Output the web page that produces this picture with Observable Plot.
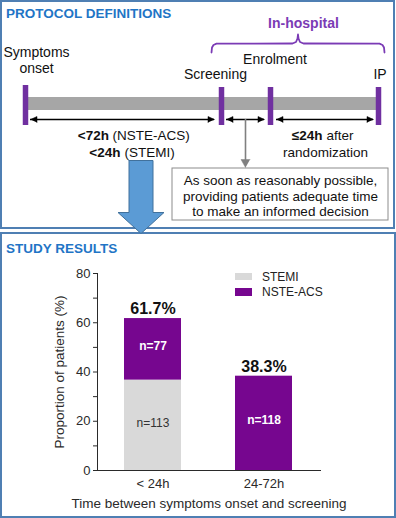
<!DOCTYPE html>
<html><head><meta charset="utf-8">
<script src="https://cdn.jsdelivr.net/npm/d3@7"></script>
<script src="https://cdn.jsdelivr.net/npm/@observablehq/plot@0.6"></script>
<style>
body{margin:0;background:#fff;font-family:"Liberation Sans",Arial,sans-serif;}
#wrap{position:relative;width:396px;height:518px;overflow:hidden;background:#fff;}
.panel{position:absolute;box-sizing:border-box;border:2px solid #4f7fb3;}
.title{position:absolute;left:6px;font-weight:bold;font-size:13.5px;line-height:13.5px;color:#1f75c6;white-space:nowrap;}
.layer{position:absolute;left:0;}
.lg-sw{position:absolute;width:17px;}
.lg-tx{position:absolute;font-size:12px;line-height:12px;color:#222;white-space:nowrap;}
</style></head><body><div id="wrap"></div>
<script>
// ---------------- chart data ----------------
const categories = ["< 24h", "24-72h"];
const series = ["STEMI", "NSTE-ACS"];
const stemiPct = [36.7, 0];
const nsteAcsPct = [25.0, 38.3];
const stemiN = [113, 0];
const nsteAcsN = [77, 118];
const yTickValues = [0, 20, 40, 60, 80];
const yMinorTicks = [10, 30, 50, 70];
const seriesColors = ["#d9d9d9", "#76068f"];
const yLabel = "Proportion of patients (%)";
const xLabel = "Time between symptoms onset and screening";

// ---------------- diagram texts ----------------
const panelTitles = ["PROTOCOL DEFINITIONS", "STUDY RESULTS"];
const eventLabels = ["Symptoms", "onset", "Screening", "Enrolment", "IP"];
const phaseLabel = "In-hospital";
const windowBold = ["<72h", "<24h", "\u226424h"];
const windowRegular = ["(NSTE-ACS)", "(STEMI)", "after"];
const windowExtra = "randomization";
const boxLines = ["As soon as reasonably possible,", "providing patients adequate time", "to make an informed decision"];

// ---------------- diagram layout (schematic, pixel units) ----------------
const D = {
  bar: {x1: 28, x2: 376, y1: 97, y2: 110},
  markerX: [25, 221, 270, 378], markerY1: [85, 87, 87, 87], markerY2: 125,
  spanY: 119, spans: [[30, 214], [226, 264], [276, 373]], head: 6.5, headHalf: 3,
  pointer: {x: 245, y1: 119, tip: 167, head: 8, half: 4.5},
  box: {x1: 172, x2: 388, y1: 168, y2: 220},
  eventPos: [[36, 52.5], [36, 68], [215, 74.5], [274.5, 59.5], [379.5, 74.5]],
  phasePos: [303, 23.5],
  bracket: [[211,52],[211.5,47],[213,44.5],[216,43.2],[292,43],[295.5,41.5],[297,38],[297.5,34],[298,38],[299.5,41.5],[303,43],[379,43.2],[382,44.5],[383.5,47],[384,52]],
  windowBoldEnd: [[108.5, 135.2], [120, 151.7], [322, 135.2]],
  windowRegStart: [[112, 135.2], [124, 151.7], [326, 135.2]],
  extraPos: [325, 151.7],
  boxText: {x: 280, y: [180.2, 195.7, 211.2]},
  bigArrow: {cx: 140.5, shaftHalf: 12, headHalf: 23, top: 160, neck: 212, tip: 233}
};

const purple = "#7030a0";
const bracketPurple = "#7b3bb5";
const font = "Liberation Sans, Arial, sans-serif";
const wrap = document.getElementById("wrap");

// panels
function panel(l, t, w, h) {
  const d = document.createElement("div");
  d.className = "panel";
  Object.assign(d.style, {left: l + "px", top: t + "px", width: w + "px", height: h + "px"});
  wrap.appendChild(d);
}
panel(0, 0, 395, 229);
panel(0, 232, 396, 286);

// ---------------- diagram with Plot ----------------
const markers = D.markerX.map((x, i) => ({x, y1: D.markerY1[i], y2: D.markerY2}));
const spanRows = D.spans.map(([a, b]) => ({x1: a, x2: b, y: D.spanY}));
const heads = [];
D.spans.forEach(([a, b], i) => {
  [[a, 1], [b, -1]].forEach(([x, s], j) => {
    const id = i + "-" + j;
    heads.push({id, x, y: D.spanY});
    heads.push({id, x: x + s * D.head, y: D.spanY - D.headHalf});
    heads.push({id, x: x + s * D.head, y: D.spanY + D.headHalf});
  });
});
const P = D.pointer;
const pointerHead = [
  {x: P.x, y: P.tip}, {x: P.x - P.half, y: P.tip - P.head}, {x: P.x + P.half, y: P.tip - P.head}
];
const A = D.bigArrow;
const bigArrow = [
  [A.cx - A.shaftHalf, A.top], [A.cx + A.shaftHalf, A.top], [A.cx + A.shaftHalf, A.neck],
  [A.cx + A.headHalf, A.neck], [A.cx, A.tip], [A.cx - A.headHalf, A.neck], [A.cx - A.shaftHalf, A.neck],
  [A.cx - A.shaftHalf, A.top]
];
const eventRows = eventLabels.map((t, i) => ({t, x: D.eventPos[i][0], y: D.eventPos[i][1]}));
const boldRows = windowBold.map((t, i) => ({t, x: D.windowBoldEnd[i][0], y: D.windowBoldEnd[i][1]}));
const regRows = windowRegular.map((t, i) => ({t, x: D.windowRegStart[i][0], y: D.windowRegStart[i][1]}));
const boxRows = boxLines.map((t, i) => ({t, x: D.boxText.x, y: D.boxText.y[i]}));

const diagram = Plot.plot({
  width: 396, height: 236, margin: 0,
  x: {domain: [0, 396], range: [0, 396], axis: null},
  y: {domain: [0, 236], range: [0, 236], axis: null},
  style: {background: "transparent", fontFamily: font, fontSize: "14px", color: "#111", overflow: "visible"},
  marks: [
    Plot.rect([D.bar], {x1: "x1", x2: "x2", y1: "y1", y2: "y2", fill: "#a6a6a6"}),
    Plot.ruleX(markers, {x: "x", y1: "y1", y2: "y2", stroke: purple, strokeWidth: 5.5}),
    Plot.ruleY(spanRows, {y: "y", x1: "x1", x2: "x2", stroke: "#000", strokeWidth: 1.3}),
    Plot.line(heads, {x: "x", y: "y", z: "id", fill: "#000", stroke: "#000", strokeWidth: 0.5}),
    Plot.ruleX([P], {x: "x", y1: "y1", y2: d => d.tip - d.head + 1, stroke: "#808080", strokeWidth: 1.6}),
    Plot.line(pointerHead, {x: "x", y: "y", fill: "#808080", stroke: "#808080", strokeWidth: 0.5}),
    Plot.rect([D.box], {x1: "x1", x2: "x2", y1: "y1", y2: "y2", fill: "white", stroke: "#8c8c8c", strokeWidth: 1}),
    Plot.line(D.bracket, {x: d => d[0], y: d => d[1], stroke: bracketPurple, strokeWidth: 1.8}),
    Plot.line(bigArrow, {x: d => d[0], y: d => d[1], fill: "#5b9bd5", stroke: "#41719c", strokeWidth: 1}),
    Plot.text(eventRows, {x: "x", y: "y", text: "t", fontSize: 14}),
    Plot.text([phaseLabel], {x: () => D.phasePos[0], y: () => D.phasePos[1], text: d => d, fontSize: 14, fontWeight: "bold", fill: bracketPurple}),
    Plot.text(boldRows, {x: "x", y: "y", text: "t", fontSize: 13.5, fontWeight: "bold", textAnchor: "end"}),
    Plot.text(regRows, {x: "x", y: "y", text: "t", fontSize: 13.5, textAnchor: "start"}),
    Plot.text([windowExtra], {x: () => D.extraPos[0], y: () => D.extraPos[1], text: d => d, fontSize: 13.5}),
    Plot.text(boxRows, {x: "x", y: "y", text: "t", fontSize: 13.5})
  ]
});
diagram.classList.add("layer");
diagram.style.top = "0px";
wrap.appendChild(diagram);

// ---------------- chart ----------------
const rows = [];
categories.forEach((c, i) => {
  let base = 0;
  [[series[0], stemiPct[i], stemiN[i]], [series[1], nsteAcsPct[i], nsteAcsN[i]]].forEach(([type, pct, n]) => {
    if (pct > 0) { rows.push({cat: c, type, pct, n, mid: base + pct / 2}); base += pct; }
  });
});
const totals = categories.map((c, i) => ({cat: c, total: +(stemiPct[i] + nsteAcsPct[i]).toFixed(1)}));
const allTicks = [...yTickValues, ...yMinorTicks].sort((a, b) => a - b);

const chart = Plot.plot({
  width: 396, height: 285,
  marginTop: 40, marginBottom: 48, marginLeft: 97, marginRight: 76,
  style: {background: "transparent", fontFamily: font, fontSize: "13px", color: "#2a2a2a", overflow: "visible"},
  x: {domain: categories, paddingInner: 0.482, paddingOuter: 0.237, tickSize: 0, tickPadding: 8, line: true, label: null},
  y: {domain: [0, 80], ticks: allTicks, tickFormat: d => yTickValues.includes(d) ? String(d) : "", tickSize: 4, tickPadding: 3, line: true, label: null},
  color: {domain: series, range: seriesColors},
  marks: [
    Plot.barY(rows, {x: "cat", y: "pct", fill: "type"}),
    Plot.text(rows.filter(d => d.type === series[0]), {x: "cat", y: "mid", text: d => "n=" + d.n, fontSize: 12, fill: "#333", dy: -2}),
    Plot.text(rows.filter(d => d.type === series[1]), {x: "cat", y: "mid", text: d => "n=" + d.n, fontSize: 12, fontWeight: "bold", fill: "white", dy: -3}),
    Plot.text(totals, {x: "cat", y: "total", text: d => d.total.toFixed(1) + "%", fontSize: 16, fontWeight: "bold", fill: "#111", dy: -9.5}),
    Plot.text([yLabel], {text: d => d, frameAnchor: "left", textAnchor: "middle", lineAnchor: "middle", rotate: -90, dx: -38, fontSize: 13.5}),
    Plot.text([xLabel], {text: d => d, frameAnchor: "bottom", textAnchor: "middle", lineAnchor: "middle", dy: 33, fontSize: 13.5})
  ]
});
chart.classList.add("layer");
chart.style.top = "233px";
wrap.appendChild(chart);

// legend (HTML) from the chart's color scale
const cs = chart.scale("color");
const lgPos = [{sw: 273, h: 7, ty: 270.5}, {sw: 288, h: 8, ty: 286}];
cs.domain.forEach((name, i) => {
  const sw = document.createElement("div");
  sw.className = "lg-sw";
  Object.assign(sw.style, {left: "235px", top: lgPos[i].sw + "px", height: lgPos[i].h + "px", background: cs.range[i]});
  wrap.appendChild(sw);
  const tx = document.createElement("div");
  tx.className = "lg-tx";
  Object.assign(tx.style, {left: "262px", top: lgPos[i].ty + "px"});
  tx.textContent = name;
  wrap.appendChild(tx);
});

// titles
[[panelTitles[0], 7], [panelTitles[1], 241.5]].forEach(([t, top]) => {
  const d = document.createElement("div");
  d.className = "title";
  d.style.top = top + "px";
  d.textContent = t;
  wrap.appendChild(d);
});
</script></body></html>
